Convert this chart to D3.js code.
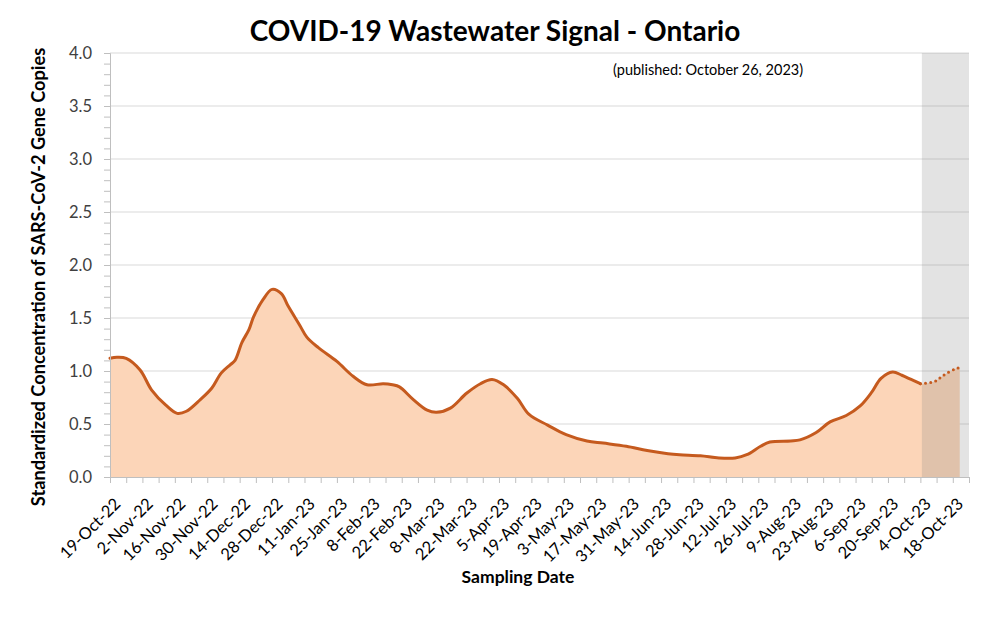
<!DOCTYPE html>
<html><head><meta charset="utf-8">
<script src="https://cdn.jsdelivr.net/npm/d3@7"></script>
<style>body{margin:0;background:#fff} svg{display:block}</style>
</head><body><svg id="c" width="1002" height="624"></svg>
<script>
// ---- data ----
const dates = ["2022-10-19","2022-10-22","2022-10-26","2022-11-01","2022-11-06","2022-11-12","2022-11-17","2022-11-21","2022-11-27","2022-12-02","2022-12-06","2022-12-10","2022-12-12","2022-12-15","2022-12-18","2022-12-20","2022-12-24","2022-12-28","2023-01-01","2023-01-04","2023-01-09","2023-01-12","2023-01-17","2023-01-25","2023-02-01","2023-02-07","2023-02-14","2023-02-18","2023-02-21","2023-02-27","2023-03-05","2023-03-09","2023-03-15","2023-03-22","2023-03-28","2023-04-02","2023-04-07","2023-04-13","2023-04-18","2023-04-26","2023-05-04","2023-05-13","2023-05-20","2023-05-30","2023-06-08","2023-06-17","2023-06-22","2023-07-01","2023-07-09","2023-07-16","2023-07-21","2023-07-27","2023-07-31","2023-08-09","2023-08-13","2023-08-20","2023-08-26","2023-09-02","2023-09-08","2023-09-13","2023-09-17","2023-09-22","2023-09-26","2023-09-30","2023-10-04"];
const values = [1.12,1.13,1.12,1.01,0.82,0.68,0.60,0.62,0.73,0.84,0.98,1.06,1.10,1.27,1.39,1.51,1.67,1.77,1.73,1.61,1.43,1.32,1.22,1.09,0.95,0.87,0.88,0.87,0.85,0.73,0.63,0.61,0.65,0.79,0.88,0.92,0.87,0.74,0.59,0.49,0.40,0.34,0.32,0.29,0.25,0.22,0.21,0.20,0.18,0.18,0.21,0.29,0.33,0.34,0.35,0.42,0.52,0.58,0.67,0.80,0.93,0.99,0.96,0.92,0.88];
const projDates = ["2023-10-04","2023-10-10","2023-10-14","2023-10-19","2023-10-21"];
const projValues = [0.88,0.90,0.96,1.02,1.03];
const tickLabels = ["19-Oct-22","2-Nov-22","16-Nov-22","30-Nov-22","14-Dec-22","28-Dec-22","11-Jan-23","25-Jan-23","8-Feb-23","22-Feb-23","8-Mar-23","22-Mar-23","5-Apr-23","19-Apr-23","3-May-23","17-May-23","31-May-23","14-Jun-23","28-Jun-23","12-Jul-23","26-Jul-23","9-Aug-23","23-Aug-23","6-Sep-23","20-Sep-23","4-Oct-23","18-Oct-23"];
const yTicks = [0,0.5,1,1.5,2,2.5,3,3.5,4];
const axisStart = "2022-10-19", axisEnd = "2023-10-25", shadeStart = "2023-10-04";
const title = "COVID-19 Wastewater Signal - Ontario";
const subtitle = "(published: October 26, 2023)";
const yTitle = "Standardized Concentration of SARS-CoV-2 Gene Copies";
const xTitle = "Sampling Date";

// ---- layout ----
const parse = d3.utcParse("%Y-%m-%d");
const L = 110, R = 969, T = 53, B = 477;
const FONT = "Lato, 'Open Sans', sans-serif";
const svg = d3.select("#c");

const x = d3.scaleUtc().domain([parse(axisStart), parse(axisEnd)]).range([L, R]);
const y = d3.scaleLinear().domain([0, 4]).range([B, T]);

const main = values.map((v, i) => ({d: parse(dates[i]), v}));
const proj = projValues.map((v, i) => ({d: parse(projDates[i]), v}));
const all = main.concat(proj.slice(1));

// gridlines
svg.append("g").selectAll("line").data(yTicks.filter(t => t > 0)).join("line")
  .attr("x1", L).attr("x2", R).attr("y1", d => y(d)).attr("y2", d => y(d))
  .attr("stroke", "#d9d9d9").attr("stroke-width", 1);

// area
const curve = d3.curveCatmullRom.alpha(0.5);
svg.append("path").datum(all)
  .attr("d", d3.area().x(d => x(d.d)).y0(B).y1(d => y(d.v)).curve(curve))
  .attr("fill", "#fcd5b8");

// shaded region
const sx = x(parse(shadeStart)) + 1.5;
svg.append("rect")
  .attr("x", sx).attr("y", T)
  .attr("width", R - sx).attr("height", B - T)
  .attr("fill", "#808080").attr("fill-opacity", 0.22);

// lines
svg.append("path").datum(main)
  .attr("d", d3.line().x(d => x(d.d)).y(d => y(d.v)).curve(curve))
  .attr("fill", "none").attr("stroke", "#c55a1e").attr("stroke-width", 3)
  .attr("stroke-linejoin", "round").attr("stroke-linecap", "round");
svg.append("path").datum(proj)
  .attr("d", d3.line().x(d => x(d.d)).y(d => y(d.v)).curve(curve))
  .attr("fill", "none").attr("stroke", "#c55a1e").attr("stroke-width", 3)
  .attr("stroke-dasharray", "0 5.2").attr("stroke-linecap", "round");

// y axis
const yMinor = d3.range(0, 41).map(i => i / 10);
const yAx = svg.append("g").attr("transform", `translate(${L},0)`)
  .call(d3.axisLeft(y).tickValues(yMinor).tickSize(6)
    .tickFormat(d => yTicks.some(t => Math.abs(t - d) < 1e-9) ? d3.format(".1f")(d) : ""));
yAx.select(".domain").attr("stroke", "#bfbfbf");
yAx.selectAll(".tick line").attr("stroke", "#bfbfbf");
yAx.selectAll("text").attr("font-family", FONT).attr("font-size", 16.5).attr("fill", "#404040")
  .attr("x", -18).attr("dy", "0.36em");

// x axis
const weekly = d3.range(0, 54).map(i => d3.utcDay.offset(parse(axisStart), i * 7));
const xAx = svg.append("g").attr("transform", `translate(0,${B})`)
  .call(d3.axisBottom(x).tickValues(weekly).tickSize(6).tickSizeOuter(0)
    .tickFormat((d, i) => i % 2 === 0 && tickLabels[i / 2] ? tickLabels[i / 2] : ""));
xAx.select(".domain").attr("stroke", "#bfbfbf");
xAx.selectAll(".tick line").attr("stroke", "#bfbfbf");
xAx.selectAll("text").attr("font-family", FONT).attr("font-size", 16.5).attr("fill", "#000")
  .attr("text-anchor", "end").attr("x", 0).attr("y", 0).attr("dy", "0.35em")
  .attr("transform", "translate(7,24) rotate(-45)");

// titles
svg.append("text").attr("x", 495).attr("y", 41).attr("text-anchor", "middle")
  .attr("font-family", FONT).attr("font-weight", "bold").attr("font-size", 28).text(title);
svg.append("text").attr("x", 613).attr("y", 75)
  .attr("font-family", FONT).attr("font-size", 14.5).attr("fill", "#000").text(subtitle);
svg.append("text").attr("transform", "translate(45,277) rotate(-90)").attr("text-anchor", "middle")
  .attr("font-family", FONT).attr("font-weight", "bold").attr("font-size", 18.2).text(yTitle);
svg.append("text").attr("x", 518).attr("y", 583).attr("text-anchor", "middle")
  .attr("font-family", FONT).attr("font-weight", "bold").attr("font-size", 17.5).text(xTitle);
</script></body></html>
